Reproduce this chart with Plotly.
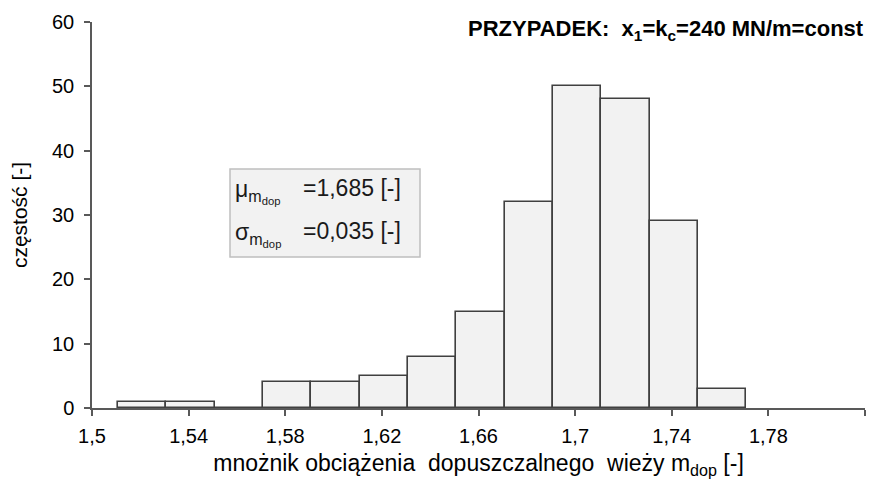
import plotly.graph_objects as go

bin_centers = [1.52, 1.54, 1.56, 1.58, 1.60, 1.62, 1.64, 1.66, 1.68, 1.70, 1.72, 1.74, 1.76]
counts = [1, 1, 0, 4, 4, 5, 8, 15, 32, 50, 48, 29, 3]
bin_width = 0.02

x_tickvals = [1.50, 1.54, 1.58, 1.62, 1.66, 1.70, 1.74, 1.78, 1.82]
x_ticktext = ["1,5", "1,54", "1,58", "1,62", "1,66", "1,7", "1,74", "1,78", ""]
y_tickvals = [0, 10, 20, 30, 40, 50, 60]

title_text = "<b>PRZYPADEK:  x<sub>1</sub>=k<sub>c</sub>=240 MN/m=const</b>"
x_title = "mnożnik obciążenia  dopuszczalnego  wieży m<sub>dop</sub> [-]"
y_title = "częstość [-]"
stat_labels = ["μ<sub>m<sub>dop</sub></sub>", "σ<sub>m<sub>dop</sub></sub>"]
stat_values = ["=1,685 [-]", "=0,035 [-]"]

axis_color = "#595959"
font_family = "Liberation Sans, Arial, sans-serif"

# plot area in page pixels: x 92..865, y 22..408 (page body has 8px margin)
PL, PR, PT, PB = 92, 865, 22, 408
def px(xp):
    return (xp - PL) / (PR - PL)
def py(yp):
    return 1 - (yp - PT) / (PB - PT)

fig = go.Figure()
fig.add_trace(go.Bar(
    x=[c + 0.0008 for c in bin_centers],
    y=counts,
    width=[bin_width] * len(counts),
    marker=dict(color="#f2f2f2", line=dict(color="#404040", width=1.6)),
    showlegend=False,
))

fig.update_layout(
    width=859, height=471,
    margin=dict(l=84, r=2, t=14, b=71, autoexpand=False),
    paper_bgcolor="white", plot_bgcolor="white",
    font=dict(family=font_family, size=20, color="#000000"),
    bargap=0,
    xaxis=dict(
        range=[1.5, 1.82], tickvals=x_tickvals, ticktext=x_ticktext,
        showgrid=False, zeroline=False, automargin=False,
        showline=True, linecolor=axis_color, linewidth=1.5,
        ticks="outside", ticklen=6, tickcolor=axis_color, tickwidth=1.5,
        ticklabelstandoff=3,
        title=dict(text=x_title, font=dict(size=23), standoff=11),
        tickfont=dict(size=20),
    ),
    yaxis=dict(
        range=[0, 60], tickvals=y_tickvals,
        showgrid=False, zeroline=False, automargin=False,
        showline=True, linecolor=axis_color, linewidth=1.5,
        ticks="outside", ticklen=6, tickcolor=axis_color, tickwidth=1.5,
        ticklabelstandoff=6,
        title=dict(text=y_title, font=dict(size=21), standoff=22),
        tickfont=dict(size=20),
    ),
)

fig.add_annotation(
    text=title_text, xref="paper", yref="paper",
    x=1.0, y=1.0, xanchor="right", yanchor="middle", xshift=1, yshift=-8,
    showarrow=False, font=dict(size=22, color="#000000"),
)

# stats box
fig.add_shape(
    type="rect", xref="paper", yref="paper",
    x0=px(230), x1=px(420), y0=py(257), y1=py(169),
    fillcolor="#f2f2f2", line=dict(color="#bfbfbf", width=1.5), layer="above",
)
for lab, val, ycen in zip(stat_labels, stat_values, [188, 231]):
    fig.add_annotation(
        text=lab, xref="paper", yref="paper", x=px(233), y=py(ycen),
        xanchor="left", yanchor="middle", yshift=-3, showarrow=False,
        font=dict(size=23, color="#1a1a1a"),
    )
    fig.add_annotation(
        text=val, xref="paper", yref="paper", x=px(301), y=py(ycen),
        xanchor="left", yanchor="middle", showarrow=False,
        font=dict(size=23, color="#1a1a1a"),
    )

fig.write_html("out.html")
